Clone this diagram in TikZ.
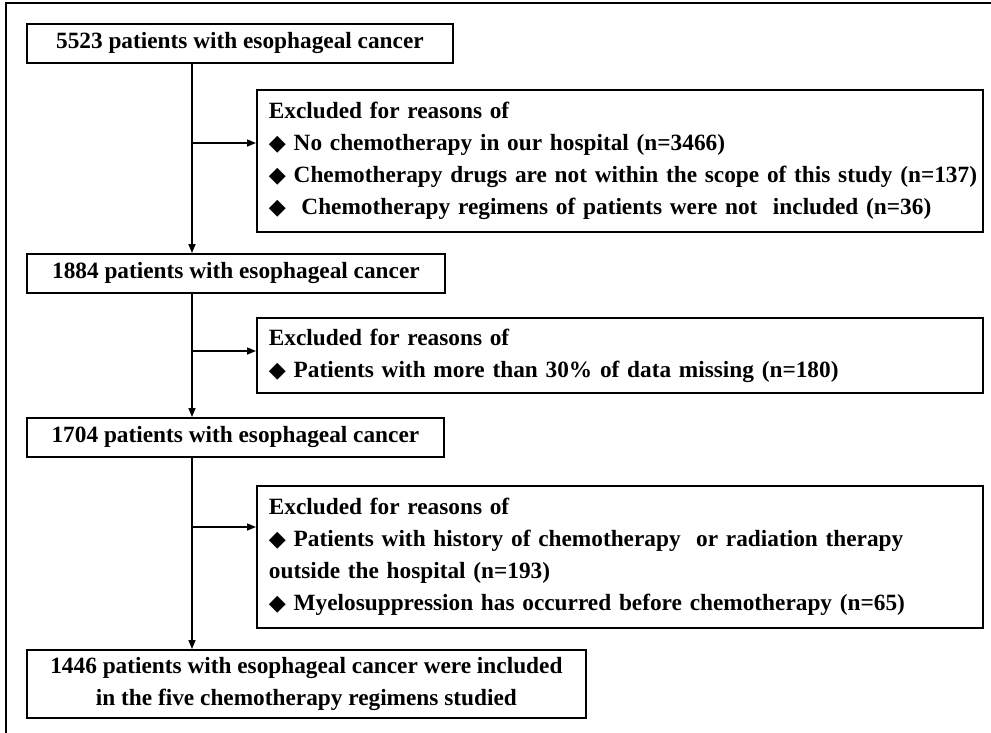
\documentclass[tikz,border=0pt]{standalone}
\usepackage{fontspec}
\setmainfont{Liberation Serif}
\newfontfamily\symfont{DejaVu Sans}
\usepackage{tikz}
\usetikzlibrary{arrows.meta}

\newcommand{\diam}{{\symfont\scalebox{0.95}{\char"25C6}}}

\tikzset{
    stagebox/.style={draw, line width=1.8pt, anchor=north west, inner sep=0pt,
        minimum height=39pt, align=center},
    exclbox/.style={draw, line width=1.8pt, anchor=north west, inner xsep=12pt,
        inner ysep=0pt, text width=702pt, align=left, minimum height=142pt},
    flow/.style={line width=1.5pt, -{Triangle[length=9pt,width=7pt]}}
}

\begin{document}
\begin{tikzpicture}[x=1pt, y=-1pt,
    font=\fontsize{23.3}{32}\selectfont\bfseries]
    \useasboundingbox (0,0) rectangle (991,733);

    % 1. Khung ngoài
    \draw[line width=1.5pt] (6,733) -- (6,3) -- (991,3);

    % 2. Các hộp số bệnh nhân
    \node[stagebox, minimum width=426pt] (p5523) at (26,23) {5523 patients with esophageal cancer};
    \node[stagebox, minimum width=418pt] (p1884) at (26,253) {1884 patients with esophageal cancer};
    \node[stagebox, minimum width=417pt] (p1704) at (26,417) {1704 patients with esophageal cancer};
    \node[stagebox, minimum width=559pt, minimum height=68pt] (p1446) at (26,649)
        {1446 patients with esophageal cancer were included\\in the five chemotherapy regimens studied};

    % 3. Các hộp loại trừ
    \node[exclbox] (excl1) at (256,89) {Excluded for reasons of\\
        \mbox{\diam\ No chemotherapy in our hospital (n=3466)}\\
        \mbox{\diam\ Chemotherapy drugs are not within the scope of this study (n=137)}\\
        \mbox{\diam\ \ Chemotherapy regimens of patients were not\ \ included (n=36)}};
    \node[exclbox, minimum height=75pt] (excl2) at (256,317) {Excluded for reasons of\\
        \mbox{\diam\ Patients with more than 30\% of data missing (n=180)}};
    \node[exclbox] (excl3) at (256,485) {Excluded for reasons of\\
        \mbox{\diam\ Patients with history of chemotherapy\ \ or radiation therapy}\\
        outside the hospital (n=193)\\
        \mbox{\diam\ Myelosuppression has occurred before chemotherapy (n=65)}};

    % 4. Trục dọc và các mũi tên
    \coordinate (spine) at (192,0);
    \draw[flow] (p5523.south -| spine) -- (p1884.north -| spine);
    \draw[flow] (p1884.south -| spine) -- (p1704.north -| spine);
    \draw[flow] (p1704.south -| spine) -- (p1446.north -| spine);

    % 5. Các nhánh sang hộp loại trừ
    \coordinate (b1) at (192,143);
    \coordinate (b2) at (192,351);
    \coordinate (b3) at (192,527);
    \foreach \b/\e in {b1/excl1, b2/excl2, b3/excl3} {
        \draw[flow] (\b) -- (\b -| \e.west);
    }
\end{tikzpicture}
\end{document}
